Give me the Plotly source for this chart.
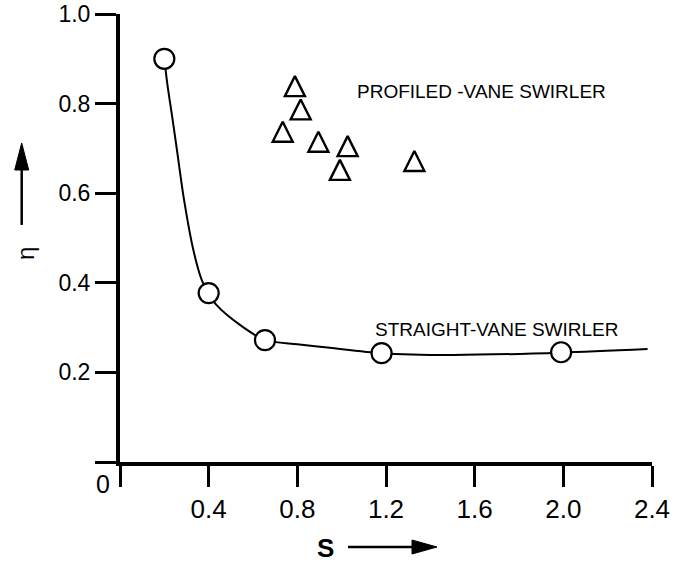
import plotly.graph_objects as go

# Straight-vane swirler measurements (circles)
straight_s = [0.20, 0.40, 0.654, 1.18, 1.99]
straight_eta = [0.90, 0.377, 0.272, 0.243, 0.245]

# Faired trend curve through the straight-vane data
curve_s = [0.20, 0.214, 0.235, 0.257, 0.289, 0.331, 0.369, 0.40, 0.436,
           0.541, 0.654, 0.80, 0.947, 1.18, 1.49, 1.99, 2.38]
curve_eta = [0.90, 0.842, 0.772, 0.696, 0.585, 0.473, 0.406, 0.377, 0.350,
             0.306, 0.272, 0.263, 0.255, 0.243, 0.239, 0.244, 0.252]

# Profiled-vane swirler measurements (triangles)
profiled_s = [0.789, 0.815, 0.734, 0.895, 1.027, 0.992, 1.328]
profiled_eta = [0.839, 0.787, 0.737, 0.715, 0.705, 0.652, 0.672]

x_ticks = [0.4, 0.8, 1.2, 1.6, 2.0, 2.4]
x_tick_text = ["0.4", "0.8", "1.2", "1.6", "2.0", "2.4"]
y_ticks = [0.2, 0.4, 0.6, 0.8, 1.0]
y_tick_text = ["0.2", "0.4", "0.6", "0.8", "1.0"]

W, H = 673, 563
L, R, T, B = 120, 21, 14, 101
PW, PH = W - L - R, H - T - B


def px(xp):
    return (xp - L) / PW


def py(yp):
    return (H - B - yp) / PH


FONT = "Liberation Sans, Arial, Helvetica, sans-serif"

fig = go.Figure()

fig.add_trace(go.Scatter(
    x=curve_s, y=curve_eta, mode="lines",
    line=dict(color="black", width=2, shape="spline", smoothing=0.8),
    hoverinfo="skip", showlegend=False,
))
fig.add_trace(go.Scatter(
    x=straight_s, y=straight_eta, mode="markers",
    marker=dict(symbol="circle", size=20, color="white",
                line=dict(color="black", width=2.2)),
    showlegend=False,
))
# upward triangles centred on the data point (arrow-down flipped, shifted by r)
fig.add_trace(go.Scatter(
    x=profiled_s, y=profiled_eta, mode="markers",
    marker=dict(symbol="arrow-down", size=20, angle=180, standoff=10,
                color="rgba(0,0,0,0)",
                line=dict(color="black", width=2.4)),
    showlegend=False,
))

fig.update_xaxes(
    range=[0, 2.4], showgrid=False, zeroline=False, automargin=False,
    showline=True, linecolor="black", linewidth=4,
    ticks="outside", ticklen=21, tickwidth=2.5, tickcolor="black",
    tickvals=[0] + x_ticks, ticktext=[""] + x_tick_text,
    tickfont=dict(family=FONT, size=26, color="black"),
)
fig.update_yaxes(
    range=[0, 1.0], showgrid=False, zeroline=False, automargin=False,
    showline=True, linecolor="black", linewidth=4,
    ticks="outside", ticklen=21, tickwidth=2.5, tickcolor="black",
    tickvals=[0] + y_ticks, ticktext=[""] + y_tick_text,
    tickfont=dict(family=FONT, size=23, color="black"),
)

annotations = [
    dict(x=px(103), y=py(484), xref="paper", yref="paper", text="0",
         showarrow=False, font=dict(family=FONT, size=25, color="black"),
         xanchor="center", yanchor="middle"),
    dict(x=1.06, y=0.828, xref="x", yref="y", text="PROFILED -VANE SWIRLER",
         showarrow=False, font=dict(family=FONT, size=19, color="black"),
         xanchor="left", yanchor="middle"),
    dict(x=1.141, y=0.296, xref="x", yref="y", text="STRAIGHT-VANE SWIRLER",
         showarrow=False, font=dict(family=FONT, size=19, color="black"),
         xanchor="left", yanchor="middle"),
    dict(x=px(325), y=py(548), xref="paper", yref="paper", text="<b>S</b>",
         showarrow=False, font=dict(family=FONT, size=26, color="black"),
         xanchor="center", yanchor="middle"),
    dict(x=px(25), y=py(254), xref="paper", yref="paper", text="η",
         textangle=-90, showarrow=False,
         font=dict(family=FONT, size=24, color="black"),
         xanchor="center", yanchor="middle"),
]

# Direction arrows beside the axis titles
shapes = [
    dict(type="line", xref="paper", yref="paper",
         x0=px(348), y0=py(547), x1=px(414), y1=py(547),
         line=dict(color="black", width=2.5)),
    dict(type="path", xref="paper", yref="paper",
         path=f"M {px(412)} {py(540)} L {px(437)} {py(547)} L {px(412)} {py(554)} Z",
         fillcolor="black", line=dict(color="black", width=1)),
    dict(type="line", xref="paper", yref="paper",
         x0=px(21.7), y0=py(225), x1=px(21.7), y1=py(168),
         line=dict(color="black", width=2.5)),
    dict(type="path", xref="paper", yref="paper",
         path=f"M {px(14.7)} {py(170)} L {px(21.7)} {py(143)} L {px(28.7)} {py(170)} Z",
         fillcolor="black", line=dict(color="black", width=1)),
]

fig.update_layout(
    width=W, height=H,
    margin=dict(l=L, r=R, t=T, b=B, pad=0),
    paper_bgcolor="white", plot_bgcolor="white",
    showlegend=False,
    annotations=annotations, shapes=shapes,
    font=dict(family=FONT, color="black"),
)

fig.write_html("out.html")
